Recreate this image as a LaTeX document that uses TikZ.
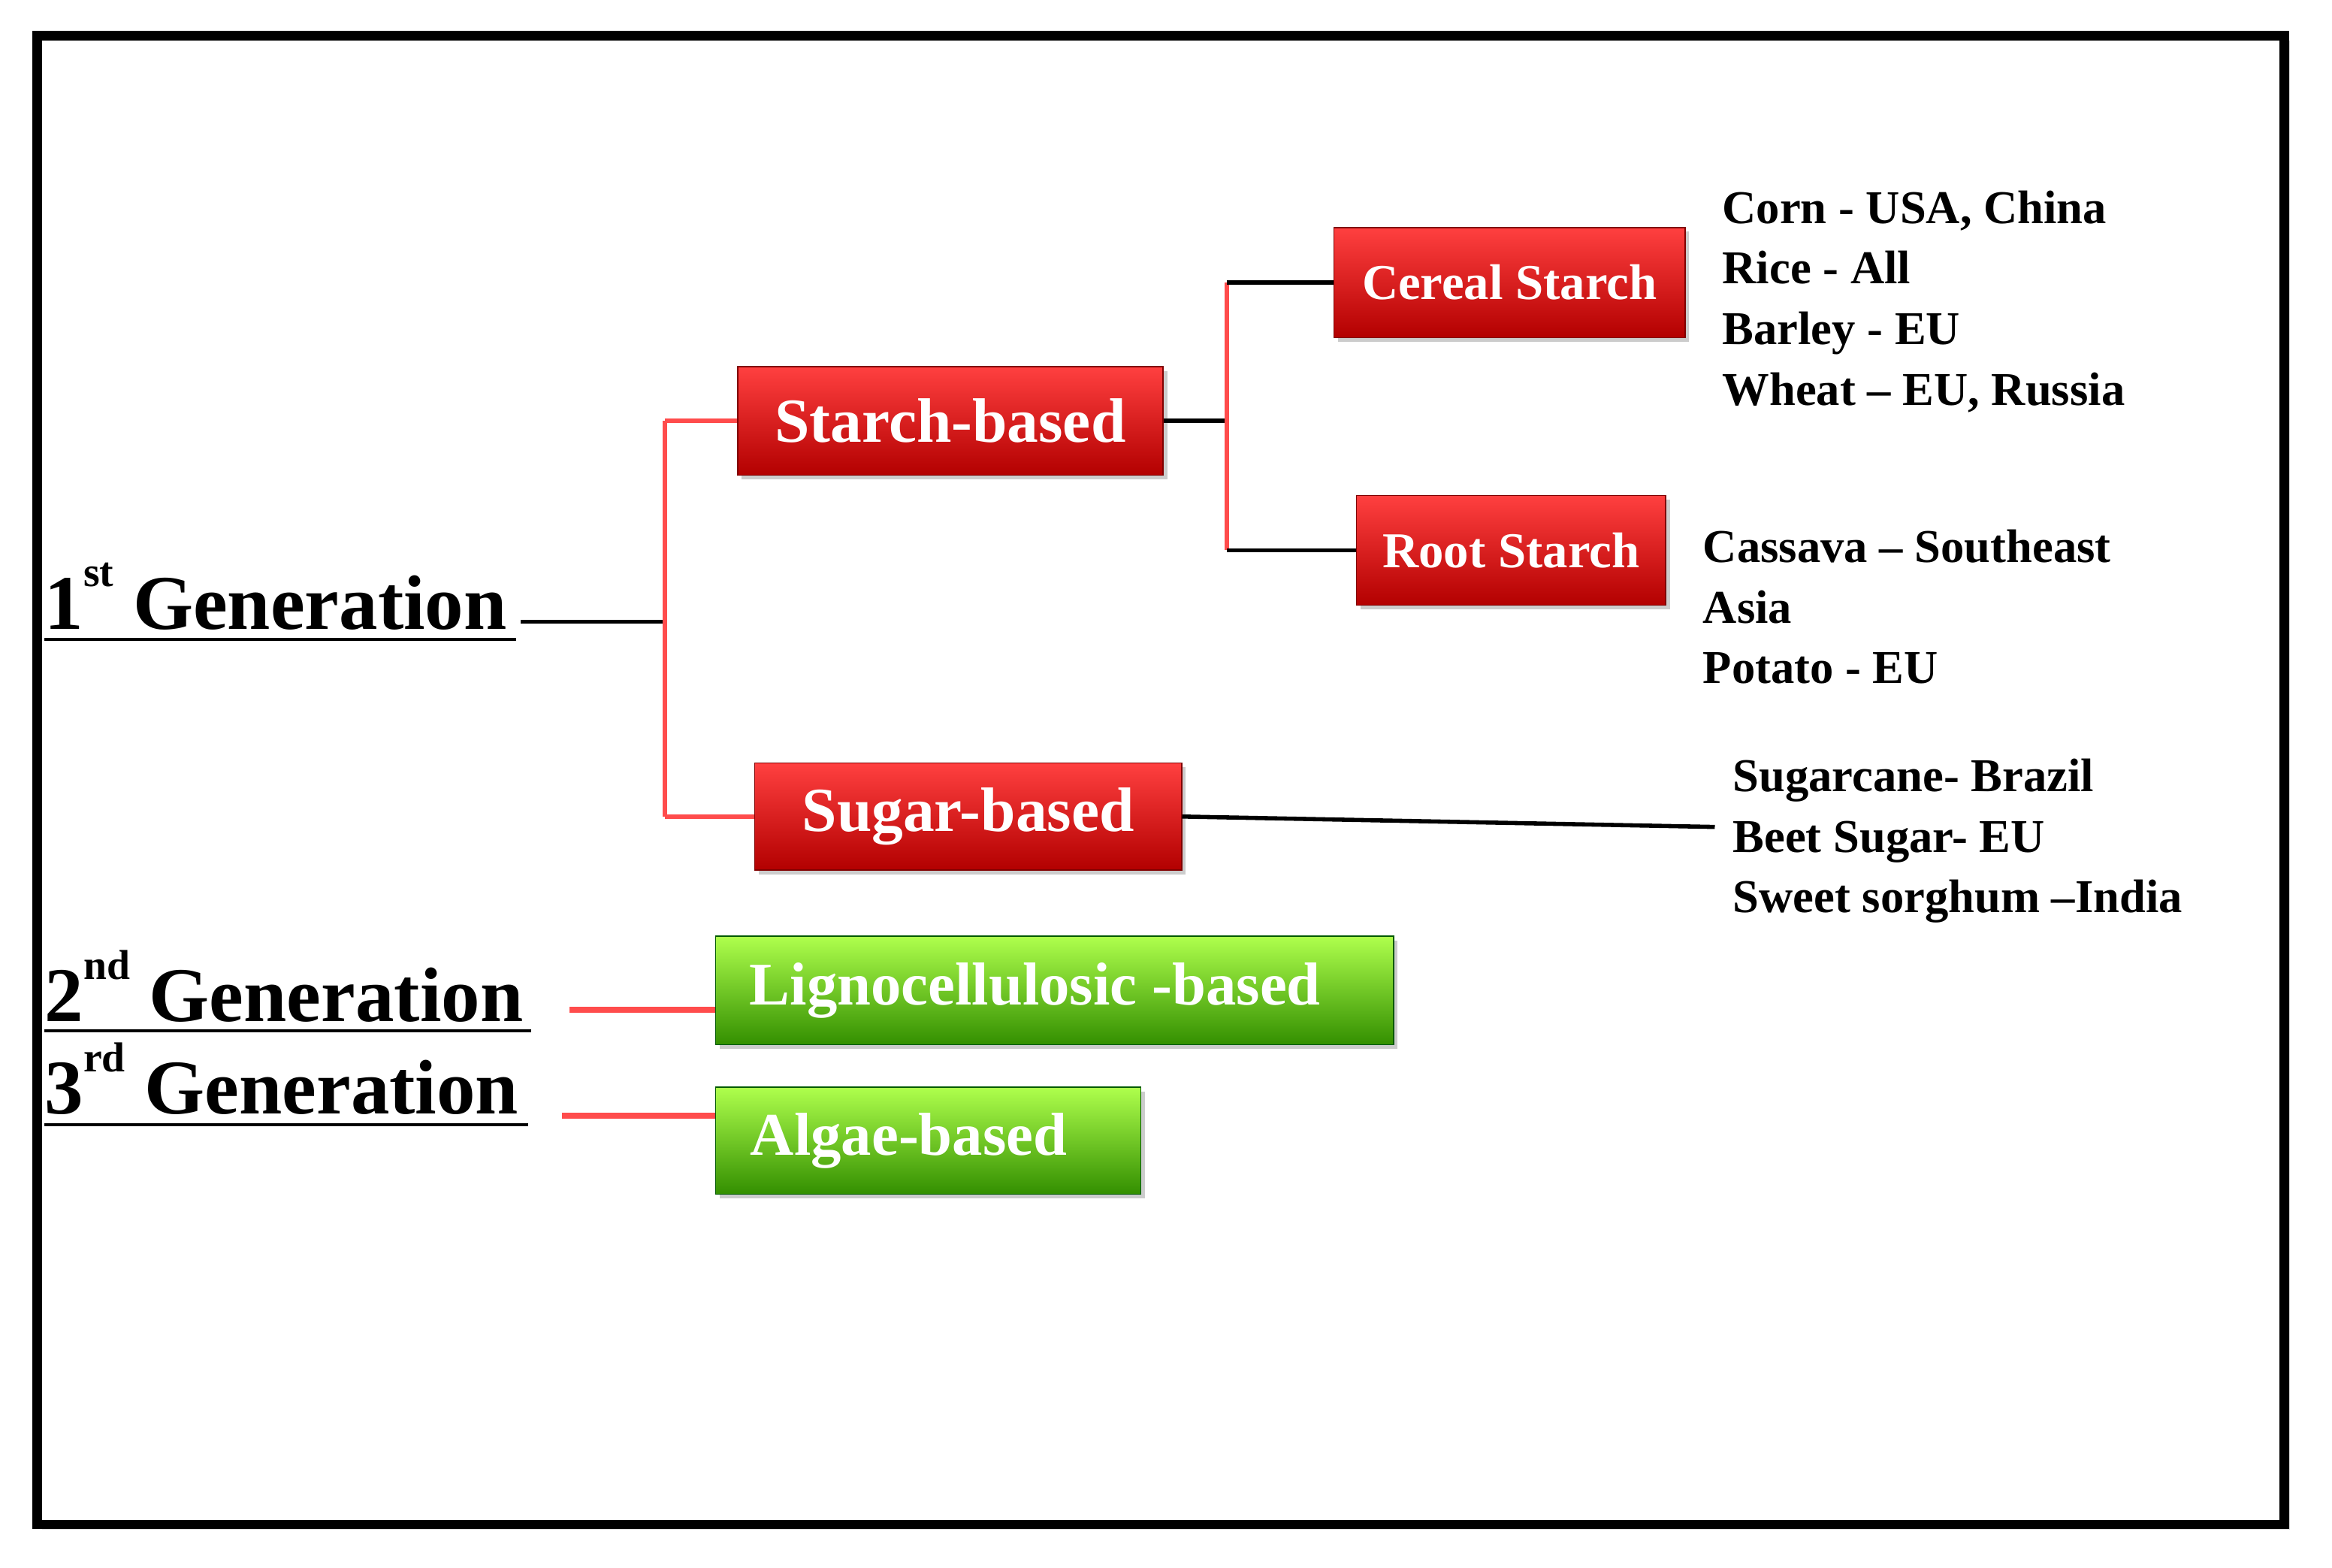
\documentclass[tikz,border=0pt]{standalone}
\usepackage{fontspec}
\setmainfont{Liberation Serif}
\usetikzlibrary{shadows}
\newcommand{\supx}[1]{\raisebox{0.55em}{\fontsize{40}{40}\selectfont #1}}
\begin{document}
\begin{tikzpicture}[x=0.05cm,y=-0.05cm,
  redbox/.style={draw=red!50!black,line width=1pt,top color=red!75!white,bottom color=red!70!black,text=white,font=\bfseries\fontsize{#1}{#1}\selectfont,inner sep=0pt,drop shadow={opacity=0.4,shadow xshift=4pt,shadow yshift=-4pt}},
  greenbox/.style={draw=green!35!black,line width=1pt,top color=green!45!yellow!70!white,bottom color=green!45!black!80!yellow,text=white,font=\bfseries\fontsize{58}{58}\selectfont,inner sep=0pt,drop shadow={opacity=0.4,shadow xshift=4pt,shadow yshift=-4pt}},
  gen/.style={font=\bfseries\fontsize{74}{74}\selectfont,anchor=base west,inner sep=0pt},
  lst/.style={font=\bfseries\fontsize{45}{58}\selectfont,align=left,anchor=north west,inner sep=0pt},
  blk/.style={line width=4pt,black},
  rd/.style={line width=4pt,red!70!white},
  ul/.style={line width=3pt}]
\useasboundingbox (0,0) rectangle (1568,1054);
\fill[white] (0,0) rectangle (1568,1054);
\draw[line width=9pt,black,fill=white,drop shadow={opacity=0.3,shadow xshift=5pt,shadow yshift=-5pt}] (25,24) rectangle (1536,1025);
% boxes
\node[redbox=60,minimum width=286*0.05cm,minimum height=73*0.05cm] (starch) at (639,283) {Starch-based};
\node[redbox=60,minimum width=287*0.05cm,minimum height=72*0.05cm] (sugar) at (651,549) {Sugar-based};
\node[redbox=48,minimum width=236*0.05cm,minimum height=74*0.05cm] (cereal) at (1015,190) {Cereal Starch};
\node[redbox=48,minimum width=208*0.05cm,minimum height=74*0.05cm] (root) at (1016,370) {Root Starch};
\node[greenbox,minimum width=456*0.05cm,minimum height=73*0.05cm] (ligno) at (709,666) {\hspace*{-1.3cm}Lignocellulosic -based};
\node[greenbox,minimum width=286*0.05cm,minimum height=72*0.05cm] (algae) at (624,767) {\hspace*{-1.3cm}Algae-based};
% generations
\node[gen] (g1) at (30,423) {1\supx{st} Generation};
\node[gen] (g2) at (30,687) {2\supx{nd} Generation};
\node[gen] (g3) at (30,749) {3\supx{rd} Generation};
\draw[ul] (30,430) -- (347,430);
\draw[ul] (30,693) -- (357,693);
\draw[ul] (30,756) -- (355,756);
% connectors
\coordinate (j1) at (447,418);
\coordinate (j2) at (825,283);
\draw[blk] (350,418) -- (j1);
\draw[rd] (starch.west -| j1) -- (sugar.west -| j1);
\draw[rd] (starch.west -| j1) -- (starch.west);
\draw[rd] (sugar.west -| j1) -- (sugar.west);
\draw[blk] (starch.east) -- (j2);
\draw[rd] (cereal.west -| j2) -- (root.west -| j2);
\draw[blk] (cereal.west -| j2) -- (cereal.west);
\draw[blk] (root.west -| j2) -- (root.west);
\coordinate (s1) at (1153,556);
\draw[blk] (sugar.east) -- (s1);
\coordinate (l2) at (383,679);
\coordinate (l3) at (378,750);
\draw[rd,line width=6pt] (l2) -- (l2 -| ligno.west);
\draw[rd,line width=6pt] (l3) -- (l3 -| algae.west);
% lists
\node[lst] (t1) at (1158,128) {Corn - USA, China\\Rice - All\\Barley - EU\\Wheat -- EU, Russia};
\node[lst] (t2) at (1145,356) {Cassava -- Southeast\\Asia\\Potato - EU};
\node[lst] (t3) at (1165,510) {Sugarcane- Brazil\\Beet Sugar- EU\\Sweet sorghum --India};
\end{tikzpicture}
\end{document}
